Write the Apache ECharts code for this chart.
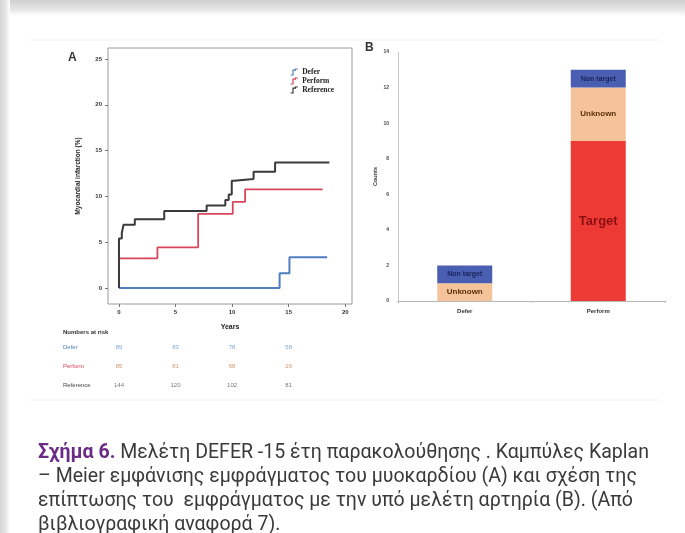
<!DOCTYPE html>
<html>
<head>
<meta charset="utf-8">
<script src="https://cdn.jsdelivr.net/npm/echarts@6/dist/echarts.min.js"></script>
<style>
  html, body { margin: 0; padding: 0; background: #ffffff; }
  #chart { width: 685px; height: 533px; }
</style>
</head>
<body>
<div id="chart"></div>
<script>
// ---- Panel A: Kaplan–Meier cumulative incidence of myocardial infarction (%) ----
const kmDefer = [[0, 0], [14.2, 1.6], [15.07, 3.35], [18.4, 3.35]];
const kmPerform = [[0, 0], [0, 3.24], [3.4, 4.44], [7.0, 8.08], [10.06, 9.39], [11.15, 10.77], [18.0, 10.77]];
const kmReference = [[0, 0], [0, 5.4], [0.25, 6.0], [0.4, 6.9], [1.4, 7.5], [4.0, 8.4], [7.75, 9.0],
  [9.4, 9.6], [9.7, 10.2], [9.97, 11.7], [10.2, 11.9], [11.9, 12.7], [13.8, 13.7], [18.6, 13.7]];
const yearTicks = [0, 5, 10, 15, 20];
const pctTicks = [0, 5, 10, 15, 20, 25];

// Numbers at risk
const riskTimes = [0, 5, 10, 15];
const riskGroups = ['Defer', 'Perform', 'Reference'];
const riskDefer = [89, 83, 78, 58];
const riskPerform = [85, 81, 68, 29];
const riskReference = [144, 120, 102, 81];

// ---- Panel B: MI events by vessel ----
const groupsB = ['Defer', 'Perform'];
const targetCounts = [0, 9];
const unknownCounts = [1, 3];
const nonTargetCounts = [1, 1];

const C_DEFER = '#4f7fc0';
const C_PERFORM = '#d8465c';
const C_REF = '#3a3a3a';

const tickFont = { fontSize: 6, fontWeight: 'bold', color: '#333', fontFamily: 'Liberation Sans, Arial, sans-serif' };

const chart = echarts.init(document.getElementById('chart'), null, { renderer: 'canvas' });

function riskSeries(name, values, color) {
  return {
    type: 'scatter', name: 'risk-' + name, xAxisIndex: 2, yAxisIndex: 2,
    symbolSize: 1, itemStyle: { color: 'transparent' }, silent: true,
    data: values.map((v, i) => [riskTimes[i], name, v]),
    label: {
      show: true, position: 'inside', formatter: p => String(p.data[2]),
      fontSize: 6, color: color, fontFamily: 'Liberation Sans, Arial, sans-serif'
    }
  };
}

function stepIcon() {
  return 'path://M0,10 L4,10 L4,2 L8,2 L8,0 L12,0';
}

const captionLines = [
  ' Μελέτη DEFER -15 έτη παρακολούθησης . Καμπύλες Kaplan',
  '– Meier εμφάνισης εμφράγματος του μυοκαρδίου (Α) και σχέση της',
  'επίπτωσης του  εμφράγματος με την υπό μελέτη αρτηρία (Β). (Από',
  'βιβλιογραφική αναφορά 7).'
];
const capTop = 442, capStep = 24, capScale = 0.93, capSize = 21;
const capFont = 'Roboto, "Noto Sans", sans-serif';

const option = {
  backgroundColor: '#ffffff',
  animation: false,
  graphic: [
    // page shadow along the top and the left edge
    { type: 'rect', left: 0, top: 0, shape: { width: 685, height: 16 }, silent: true, z: -10,
      style: { fill: new echarts.graphic.LinearGradient(0, 0, 0, 1, [
        { offset: 0, color: '#cfcfcf' }, { offset: 0.6, color: '#e6e6e6' }, { offset: 1, color: '#ffffff' }]) } },
    { type: 'rect', left: 0, top: 0, shape: { width: 10, height: 533 }, silent: true, z: -9,
      style: { fill: new echarts.graphic.LinearGradient(0, 0, 1, 0, [
        { offset: 0, color: '#d4d4d4' }, { offset: 0.7, color: '#ececec' }, { offset: 1, color: '#ffffff' }]) } },
    // faint figure frame
    { type: 'line', silent: true, shape: { x1: 30, y1: 40, x2: 660, y2: 40 }, style: { stroke: '#f0f0f0', lineWidth: 1 } },
    { type: 'line', silent: true, shape: { x1: 30, y1: 400, x2: 660, y2: 400 }, style: { stroke: '#f0f0f0', lineWidth: 1 } },
    // panel letters
    { type: 'text', left: 68, top: 52, style: { text: 'A', font: 'bold 12px "Liberation Sans", Arial, sans-serif', fill: '#333' } },
    { type: 'text', left: 365, top: 42, style: { text: 'B', font: 'bold 12px "Liberation Sans", Arial, sans-serif', fill: '#333' } },
    // numbers-at-risk header
    { type: 'text', left: 63, top: 329, style: { text: 'Numbers at risk', font: 'bold 6px "Liberation Sans", Arial, sans-serif', fill: '#333' } },
    // caption
    { type: 'text', x: 38, y: capTop, scaleX: capScale, silent: true,
      style: { text: '{h|Σχήμα 6.}{t|' + captionLines[0] + '}', rich: {
        h: { fontSize: capSize, fontWeight: 'bold', fill: '#6a2a86', fontFamily: capFont },
        t: { fontSize: capSize, fill: '#3a3a3a', fontFamily: capFont } } } },
    ...captionLines.slice(1).map((s, i) => ({
      type: 'text', x: 38, y: capTop + capStep * (i + 1), scaleX: capScale, silent: true,
      style: { text: s, fontSize: capSize, fill: '#3a3a3a', fontFamily: capFont }
    }))
  ],
  legend: {
    orient: 'vertical', left: 285, top: 63, itemGap: 1, itemWidth: 12, itemHeight: 6,
    textStyle: { fontSize: 7.5, fontWeight: 'bold', color: '#222', fontFamily: 'Liberation Serif, serif', padding: [0, 0, 0, -3] },
    data: [
      { name: 'Defer', icon: stepIcon(), itemStyle: { color: 'transparent', borderColor: C_DEFER, borderWidth: 1.2 } },
      { name: 'Perform', icon: stepIcon(), itemStyle: { color: 'transparent', borderColor: C_PERFORM, borderWidth: 1.2 } },
      { name: 'Reference', icon: stepIcon(), itemStyle: { color: 'transparent', borderColor: C_REF, borderWidth: 1.2 } }
    ]
  },
  grid: [
    { left: 108, top: 48, width: 244, height: 256, show: true, borderColor: '#9a9a9a', borderWidth: 1, backgroundColor: 'transparent' },
    { left: 398, top: 52, width: 267, height: 249 },
    { left: 108, top: 338, width: 244, height: 57 }
  ],
  xAxis: [
    { type: 'value', gridIndex: 0, min: -0.97, max: 20.6,
      name: 'Years', nameLocation: 'middle', nameGap: 20,
      nameTextStyle: { fontSize: 7, fontWeight: 'bold', color: '#222', fontFamily: 'Liberation Sans, Arial, sans-serif' },
      axisLine: { show: false, onZero: false }, splitLine: { show: false },
      axisTick: { show: true, inside: false, length: 3, lineStyle: { color: '#777' }, customValues: yearTicks },
      axisLabel: Object.assign({ margin: 5, customValues: yearTicks }, tickFont) },
    { type: 'category', gridIndex: 1, data: groupsB,
      axisLine: { show: true, lineStyle: { color: '#b8b8b8' } },
      axisTick: { show: true, length: 2, lineStyle: { color: '#b8b8b8' } },
      axisLabel: Object.assign({ margin: 7 }, tickFont) },
    { type: 'value', gridIndex: 2, min: -0.97, max: 20.6, show: false }
  ],
  yAxis: [
    { type: 'value', gridIndex: 0, min: -1.75, max: 26.2,
      name: 'Myocardial infarction (%)', nameLocation: 'middle', nameGap: 26, nameRotate: 90,
      nameTextStyle: { fontSize: 6.5, fontWeight: 'bold', color: '#222', fontFamily: 'Liberation Sans, Arial, sans-serif' },
      axisLine: { show: false, onZero: false }, splitLine: { show: false },
      axisTick: { show: true, inside: false, length: 3, lineStyle: { color: '#777' }, customValues: pctTicks },
      axisLabel: Object.assign({ margin: 6, customValues: pctTicks }, tickFont) },
    { type: 'value', gridIndex: 1, min: 0, max: 14, interval: 2,
      name: 'Counts', nameLocation: 'middle', nameGap: 20, nameRotate: 90,
      nameTextStyle: { fontSize: 5.5, fontWeight: 'bold', color: '#333', fontFamily: 'Liberation Sans, Arial, sans-serif' },
      axisLine: { show: true, lineStyle: { color: '#c8c8c8' } },
      axisTick: { show: false }, splitLine: { show: false },
      axisLabel: { margin: 9, fontSize: 5, fontWeight: 'bold', color: '#444', fontFamily: 'Liberation Sans, Arial, sans-serif' } },
    { type: 'category', gridIndex: 2, data: riskGroups, inverse: true,
      axisLine: { show: false }, axisTick: { show: false },
      axisLabel: { show: true, align: 'left', margin: 45, fontSize: 6, fontFamily: 'Liberation Sans, Arial, sans-serif',
        color: (v) => v === 'Defer' ? C_DEFER : (v === 'Perform' ? C_PERFORM : '#444') } }
  ],
  series: [
    { type: 'line', name: 'Defer', xAxisIndex: 0, yAxisIndex: 0, step: 'end', showSymbol: false, symbol: 'none',
      data: kmDefer, lineStyle: { color: C_DEFER, width: 2 }, itemStyle: { color: C_DEFER }, z: 3 },
    { type: 'line', name: 'Perform', xAxisIndex: 0, yAxisIndex: 0, step: 'end', showSymbol: false, symbol: 'none',
      data: kmPerform, lineStyle: { color: C_PERFORM, width: 1.8 }, itemStyle: { color: C_PERFORM }, z: 3 },
    { type: 'line', name: 'Reference', xAxisIndex: 0, yAxisIndex: 0, step: 'end', showSymbol: false, symbol: 'none',
      data: kmReference, lineStyle: { color: C_REF, width: 2 }, itemStyle: { color: C_REF }, z: 4 },

    { type: 'bar', name: 'Target', xAxisIndex: 1, yAxisIndex: 1, stack: 'mi', barWidth: 55,
      data: targetCounts, itemStyle: { color: '#ee3a35' },
      label: { show: true, position: 'inside', formatter: p => p.value ? 'Target' : '',
        fontSize: 13, fontWeight: 'bold', color: '#8a1010', fontFamily: 'Liberation Sans, Arial, sans-serif' } },
    { type: 'bar', name: 'Unknown', xAxisIndex: 1, yAxisIndex: 1, stack: 'mi', barWidth: 55,
      data: unknownCounts, itemStyle: { color: '#f5c39a' },
      label: { show: true, position: 'inside', formatter: p => p.value ? 'Unknown' : '',
        fontSize: 8, fontWeight: 'bold', color: '#5a300c', fontFamily: 'Liberation Sans, Arial, sans-serif' } },
    { type: 'bar', name: 'Non target', xAxisIndex: 1, yAxisIndex: 1, stack: 'mi', barWidth: 55,
      data: nonTargetCounts, itemStyle: { color: '#4a5fb2' },
      label: { show: true, position: 'inside', formatter: p => p.value ? 'Non target' : '',
        fontSize: 7, fontWeight: 'bold', color: '#1a2560', fontFamily: 'Liberation Sans, Arial, sans-serif' } },

    riskSeries('Defer', riskDefer, '#5b8fc6'),
    riskSeries('Perform', riskPerform, '#c87a4a'),
    riskSeries('Reference', riskReference, '#555555')
  ]
};

chart.setOption(option);
</script>
</body>
</html>
